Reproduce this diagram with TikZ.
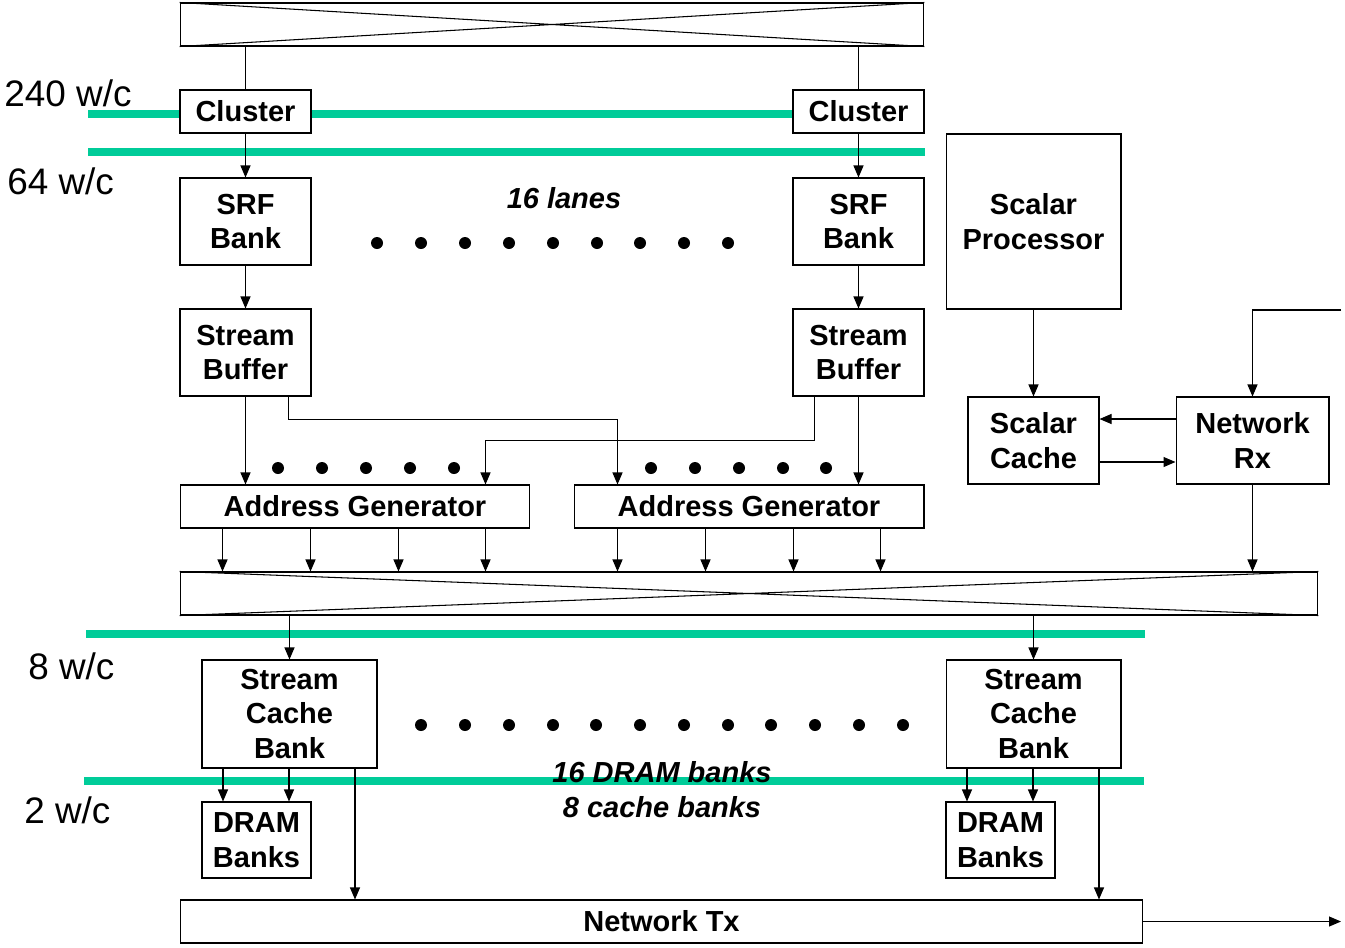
\documentclass[tikz,border=0pt]{standalone}
\usepackage{fontspec}
\setmainfont{Liberation Sans}
\usetikzlibrary{arrows.meta,calc}
\definecolor{busgreen}{RGB}{0,204,153}

\begin{document}
\begin{tikzpicture}[x=0.02cm, y=-0.02cm,
    box/.style={draw, fill=white, line width=0.6pt, inner sep=0pt, align=center, font=\fontsize{16.5}{19.8}\selectfont\bfseries},
    arr/.style={-{Triangle[length=0.24cm,width=0.2cm]}, line width=0.6pt},
    bus/.style={busgreen, line width=0.16cm},
    rate/.style={anchor=west, inner sep=0pt, font=\fontsize{21}{25}\selectfont},
    note/.style={align=center, inner sep=0pt, font=\fontsize{16.5}{19.8}\selectfont\bfseries\itshape},
    dot/.style={fill=black}]
    \useasboundingbox (0,0) rectangle (1345,947);

    % Buses
    \draw[bus] (88,114) -- (924,114);
    \draw[bus] (88,152) -- (925,152);
    \draw[bus] (86,634) -- (1145,634);
    \draw[bus] (84,781) -- (1144,781);

    % Rate labels
    \node[rate] (r240) at (4,93) {240 w/c};
    \node[rate] (r64) at (7,181) {64 w/c};
    \node[rate] (r8) at (28,666) {8 w/c};
    \node[rate] (r2) at (24,810) {2 w/c};

    % Crossbars
    \node[box, minimum width=14.88cm, minimum height=0.86cm] (xtop) at (552,24.5) {};
    \node[box, minimum width=22.76cm, minimum height=0.86cm] (xbot) at (749,593.5) {};
    \draw[line width=0.6pt] (xtop.north west) -- (xtop.south east) (xtop.south west) -- (xtop.north east);
    \draw[line width=0.6pt] (xbot.north west) -- (xbot.south east) (xbot.south west) -- (xbot.north east);

    % Lanes
    \node[box, minimum width=2.62cm, minimum height=0.86cm] (clusterL) at (245.5,111.5) {Cluster};
    \node[box, minimum width=2.62cm, minimum height=0.86cm] (clusterR) at (858.5,111.5) {Cluster};
    \node[box, minimum width=2.62cm, minimum height=1.74cm] (srfL) at (245.5,221.5) {SRF\\Bank};
    \node[box, minimum width=2.62cm, minimum height=1.74cm] (srfR) at (858.5,221.5) {SRF\\Bank};
    \node[box, minimum width=2.62cm, minimum height=1.74cm] (sbL) at (245.5,352.5) {Stream\\Buffer};
    \node[box, minimum width=2.62cm, minimum height=1.74cm] (sbR) at (858.5,352.5) {Stream\\Buffer};
    \node[box, minimum width=7.0cm, minimum height=0.86cm] (agL) at (355,506.5) {Address Generator};
    \node[box, minimum width=7.0cm, minimum height=0.86cm] (agR) at (749,506.5) {Address Generator};
    \node[note] (lanes) at (564,198) {16 lanes};

    % Scalar side
    \node[box, minimum width=3.5cm, minimum height=3.5cm] (sproc) at (1033.5,221.5) {Scalar\\Processor};
    \node[box, minimum width=2.62cm, minimum height=1.74cm] (scache) at (1033.5,440.5) {Scalar\\Cache};
    \node[box, minimum width=3.06cm, minimum height=1.74cm] (netrx) at (1252.5,440.5) {Network\\Rx};

    % Memory side
    \node[box, minimum width=3.5cm, minimum height=2.16cm] (scbL) at (289.5,714) {Stream\\Cache\\Bank};
    \node[box, minimum width=3.5cm, minimum height=2.16cm] (scbR) at (1033.5,714) {Stream\\Cache\\Bank};
    \node[box, minimum width=2.18cm, minimum height=1.52cm] (dramL) at (256.5,840) {DRAM\\Banks};
    \node[box, minimum width=2.18cm, minimum height=1.52cm] (dramR) at (1000.5,840) {DRAM\\Banks};
    \node[box, minimum width=19.26cm, minimum height=0.86cm] (ntx) at (661.5,921.5) {Network Tx};
    \node[note] (banks) at (662,789.5) {16 DRAM banks\\8 cache banks};

    % Dots
    \foreach \x in {377,421,465,509,553,597,640,684,728}
        \fill[dot] (\x,243) circle (0.12cm);
    \foreach \x in {278,322,366,410,454,651,695,739,783,826}
        \fill[dot] (\x,468) circle (0.12cm);
    \foreach \x in {421,465,509,553,596,640,684,728,771,815,859,903}
        \fill[dot] (\x,725) circle (0.12cm);

    % Lane connections
    \draw[line width=0.6pt] (xtop.south -| clusterL) -- (clusterL);
    \draw[line width=0.6pt] (xtop.south -| clusterR) -- (clusterR);
    \draw[arr] (clusterL) -- (srfL);
    \draw[arr] (clusterR) -- (srfR);
    \draw[arr] (srfL) -- (sbL);
    \draw[arr] (srfR) -- (sbR);
    \draw[arr] (sbL) -- (sbL |- agL.north);
    \draw[arr] (sbR) -- (sbR |- agR.north);
    \path (sbL.south west) ++(109,0) coordinate (sbLout);
    \path (sbR.south west) ++(22,0) coordinate (sbRout);
    \path (agL.north west) ++(306,0) coordinate (agLin);
    \path (agR.north west) ++(44,0) coordinate (agRin);
    \draw[arr] (sbLout) -- ++(0,23) -| (agRin);
    \draw[arr] (sbRout) -- ++(0,44) -| (agLin);
    \foreach \d in {43,131,219,306} {
        \path (agL.south west) ++(\d,0) coordinate (a);
        \draw[arr] (a) -- (a |- xbot.north);
        \path (agR.south west) ++(\d+1,0) coordinate (b);
        \draw[arr] (b) -- (b |- xbot.north);
    }

    % Scalar connections
    \coordinate (rxin) at (1341,310);
    \coordinate (txout) at (1341,921.5);
    \draw[arr] (sproc) -- (scache);
    \draw[arr] (rxin) -| (netrx);
    \draw[arr] ([yshift=0.43cm]netrx.west) -- ([yshift=0.43cm]scache.east);
    \draw[arr] ([yshift=-0.43cm]scache.east) -- ([yshift=-0.43cm]netrx.west);
    \draw[arr] (netrx) -- (netrx |- xbot.north);

    % Memory connections
    \draw[arr] (xbot.south -| scbL) -- (scbL);
    \draw[arr] (xbot.south -| scbR) -- (scbR);
    \foreach \s/\m in {scbL/dramL, scbR/dramR} {
        \path (\s.south west) ++(21.5,0) coordinate (c1);
        \path (\s.south west) ++(87.5,0) coordinate (c2);
        \path (\s.south west) ++(153.5,0) coordinate (c3);
        \draw[arr] (c1) -- (c1 |- \m.north);
        \draw[arr] (c2) -- (c2 |- \m.north);
        \draw[arr] (c3) -- (c3 |- ntx.north);
    }
    \draw[arr] (ntx) -- (txout);
\end{tikzpicture}
\end{document}
